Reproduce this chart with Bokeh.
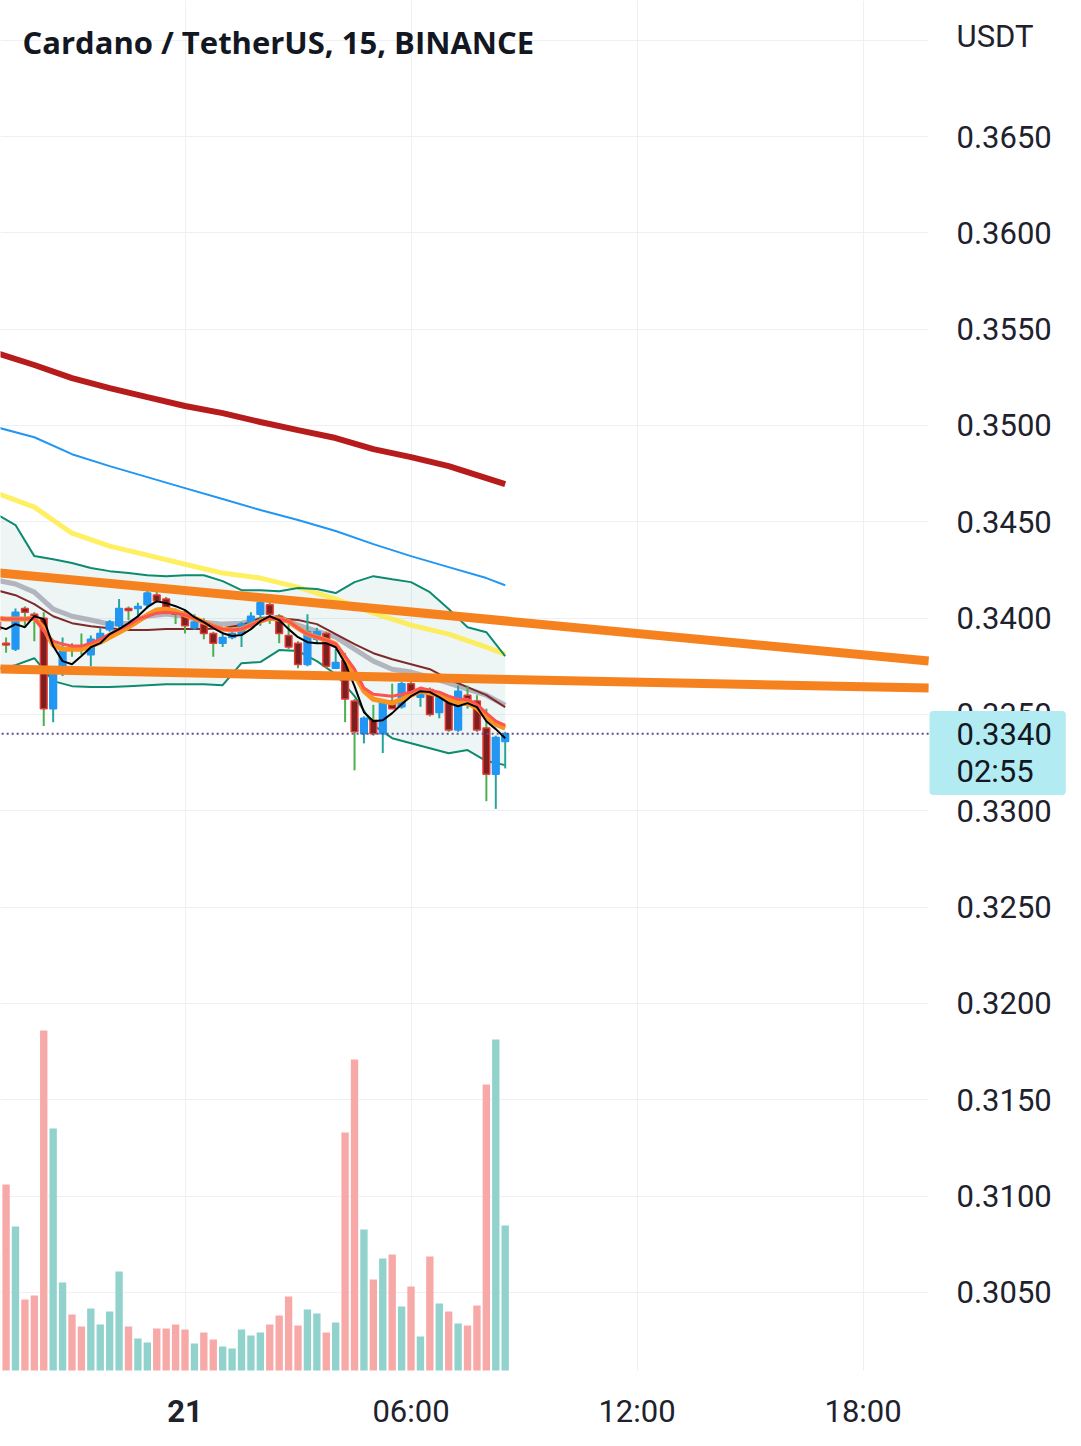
from bokeh.plotting import figure
from bokeh.models import Range1d, FixedTicker, NumeralTickFormatter, Label, ColumnDataSource, BoxAnnotation
from bokeh.embed import file_html
from bokeh.resources import INLINE

# ---------------- data ----------------
# bar open times, hours relative to 00:00 on the 21st (15-minute bars)
bar_hours = [-5.0, -4.75, -4.5, -4.25, -4.0, -3.75, -3.5, -3.25, -3.0, -2.75, -2.5, -2.25,
             -2.0, -1.75, -1.5, -1.25, -1.0, -0.75, -0.5, -0.25, 0.0, 0.25, 0.5, 0.75,
             1.0, 1.25, 1.5, 1.75, 2.0, 2.25, 2.5, 2.75, 3.0, 3.25, 3.5, 3.75, 4.0, 4.25,
             4.5, 4.75, 5.0, 5.25, 5.5, 5.75, 6.0, 6.25, 6.5, 6.75, 7.0, 7.25, 7.5, 7.75,
             8.0, 8.25, 8.5]

open_ = [0.3398, 0.3387, 0.3384, 0.3405, 0.3402, 0.3400, 0.3353, 0.3375, 0.3385, 0.3385, 0.3381,
         0.3388, 0.3394, 0.3396, 0.3405, 0.3405, 0.3407, 0.3412, 0.3410, 0.3404, 0.3403, 0.3395,
         0.3397, 0.3392, 0.3387, 0.3390, 0.3392, 0.3396, 0.3402, 0.3407, 0.3401, 0.3391, 0.3387,
         0.3376, 0.3389, 0.3392, 0.3374, 0.3378, 0.3357, 0.3340, 0.3347, 0.3340, 0.3357, 0.3354,
         0.3366, 0.3359, 0.3363, 0.3351, 0.3358, 0.3342, 0.3360, 0.3357, 0.3343, 0.3319, 0.3336]
high = [0.3401, 0.3390, 0.3405, 0.3406, 0.3403, 0.3403, 0.3372, 0.3390, 0.3387, 0.3392, 0.3391,
        0.3395, 0.3399, 0.3410, 0.3406, 0.3408, 0.3415, 0.3414, 0.3411, 0.3405, 0.3404, 0.3402,
        0.3400, 0.3393, 0.3393, 0.3393, 0.3398, 0.3403, 0.3408, 0.3408, 0.3402, 0.3397, 0.3388,
        0.3402, 0.3395, 0.3393, 0.3384, 0.3382, 0.3358, 0.3349, 0.3355, 0.3358, 0.3366, 0.3367,
        0.3367, 0.3363, 0.3364, 0.3361, 0.3358, 0.3365, 0.3365, 0.3360, 0.3353, 0.3339, 0.3341]
low = [0.3392, 0.3382, 0.3383, 0.3396, 0.3388, 0.3344, 0.3346, 0.3370, 0.3380, 0.3381, 0.3375,
       0.3387, 0.3393, 0.3394, 0.3399, 0.3399, 0.3405, 0.3408, 0.3402, 0.3397, 0.3392, 0.3394,
       0.3389, 0.3380, 0.3385, 0.3389, 0.3385, 0.3396, 0.3396, 0.3397, 0.3387, 0.3384, 0.3374,
       0.3375, 0.3387, 0.3374, 0.3374, 0.3346, 0.3321, 0.3335, 0.3339, 0.3330, 0.3353, 0.3353,
       0.3359, 0.3354, 0.3349, 0.3348, 0.3341, 0.3341, 0.3353, 0.3341, 0.3305, 0.3301, 0.3322]
close = [0.3394, 0.3386, 0.3403, 0.3403, 0.3400, 0.3353, 0.3371, 0.3383, 0.3384, 0.3384, 0.3389,
         0.3392, 0.3398, 0.3405, 0.3404, 0.3406, 0.3413, 0.3409, 0.3403, 0.3402, 0.3396, 0.3398,
         0.3392, 0.3387, 0.3390, 0.3392, 0.3397, 0.3401, 0.3408, 0.3402, 0.3392, 0.3385, 0.3376,
         0.3393, 0.3393, 0.3375, 0.3377, 0.3358, 0.3341, 0.3348, 0.3340, 0.3357, 0.3353, 0.3366,
         0.3360, 0.3363, 0.3350, 0.3360, 0.3342, 0.3362, 0.3355, 0.3342, 0.3319, 0.3338, 0.3340]
volume = [351000, 558000, 432000, 213000, 225000, 1020000, 726000, 264000, 168000, 132000, 186000,
          138000, 177000, 297000, 132000, 96000, 84000, 126000, 126000, 138000, 123000, 81000,
          114000, 93000, 72000, 66000, 123000, 105000, 114000, 138000, 165000, 222000, 135000,
          183000, 171000, 114000, 144000, 714000, 933000, 423000, 273000, 336000, 348000, 192000,
          252000, 102000, 342000, 201000, 177000, 141000, 135000, 195000, 858000, 993000, 435000]

# fast moving averages, one value per bar
ema_black = [0.33958, 0.33943, 0.33969, 0.33953, 0.34010, 0.33995, 0.33855, 0.33777, 0.33761, 0.33803,
             0.33849, 0.33870, 0.33917, 0.33943, 0.33974, 0.34010, 0.34057, 0.34088, 0.34078, 0.34062,
             0.34042, 0.34005, 0.33979, 0.33948, 0.33922, 0.33907, 0.33912, 0.33943, 0.33984, 0.34010,
             0.33990, 0.33943, 0.33901, 0.33875, 0.33870, 0.33870, 0.33849, 0.33766, 0.33647, 0.33512,
             0.33465, 0.33470, 0.33507, 0.33553, 0.33595, 0.33621, 0.33616, 0.33590, 0.33559, 0.33543,
             0.33559, 0.33538, 0.33465, 0.33424, 0.33377]
ema_orange = [0.34000, 0.33995, 0.33995, 0.33995, 0.34000, 0.33948, 0.33860, 0.33839, 0.33839, 0.33839,
              0.33855, 0.33875, 0.33901, 0.33927, 0.33953, 0.33984, 0.34016, 0.34042, 0.34047, 0.34036,
              0.34016, 0.34000, 0.33979, 0.33958, 0.33943, 0.33938, 0.33943, 0.33964, 0.33984, 0.34000,
              0.33995, 0.33984, 0.33948, 0.33917, 0.33901, 0.33886, 0.33865, 0.33792, 0.33709, 0.33621,
              0.33579, 0.33569, 0.33559, 0.33579, 0.33600, 0.33621, 0.33611, 0.33600, 0.33579, 0.33559,
              0.33559, 0.33533, 0.33486, 0.33450, 0.33429]
ema_red = [0.34000, 0.33995, 0.33995, 0.33995, 0.34000, 0.33933, 0.33881, 0.33865, 0.33855, 0.33855,
           0.33870, 0.33891, 0.33917, 0.33943, 0.33964, 0.33995, 0.34010, 0.34026, 0.34031, 0.34026,
           0.34016, 0.34000, 0.33979, 0.33958, 0.33943, 0.33938, 0.33943, 0.33964, 0.33984, 0.34000,
           0.33995, 0.33984, 0.33948, 0.33917, 0.33901, 0.33886, 0.33865, 0.33803, 0.33735, 0.33637,
           0.33605, 0.33600, 0.33595, 0.33605, 0.33616, 0.33637, 0.33626, 0.33616, 0.33595, 0.33579,
           0.33579, 0.33553, 0.33507, 0.33465, 0.33444]

# Bollinger bands and mid-speed averages, sampled every second bar
band_hours = [-5.0, -4.5, -4.0, -3.5, -3.0, -2.5, -2.0, -1.5, -1.0, -0.5, 0.0, 0.5, 1.0, 1.5,
              2.0, 2.5, 3.0, 3.5, 4.0, 4.5, 5.0, 5.5, 6.0, 6.5, 7.0, 7.5, 8.0, 8.5]
bb_upper = [0.34540, 0.34483, 0.34322, 0.34306, 0.34286, 0.34260, 0.34244, 0.34234, 0.34223, 0.34218,
            0.34223, 0.34223, 0.34192, 0.34145, 0.34145, 0.34140, 0.34156, 0.34151, 0.34130, 0.34187,
            0.34218, 0.34202, 0.34187, 0.34135, 0.34047, 0.33953, 0.33927, 0.33803]
bb_lower = [0.33735, 0.33756, 0.33792, 0.33673, 0.33647, 0.33642, 0.33642, 0.33647, 0.33652, 0.33657,
            0.33657, 0.33657, 0.33652, 0.33766, 0.33772, 0.33834, 0.33829, 0.33777, 0.33709, 0.33595,
            0.33444, 0.33377, 0.33351, 0.33325, 0.33299, 0.33315, 0.33258, 0.33237]
ma_gray = [0.34197, 0.34177, 0.34135, 0.34047, 0.34010, 0.33990, 0.33969, 0.33974, 0.34010, 0.34021,
           0.34010, 0.33979, 0.33969, 0.33974, 0.33995, 0.34005, 0.33964, 0.33933, 0.33901, 0.33839,
           0.33777, 0.33735, 0.33720, 0.33694, 0.33663, 0.33631, 0.33600, 0.33548]
ma_maroon = [0.34145, 0.34119, 0.34073, 0.34010, 0.33974, 0.33958, 0.33948, 0.33938, 0.33938, 0.33943,
             0.33943, 0.33943, 0.33948, 0.33964, 0.34000, 0.34000, 0.33990, 0.33969, 0.33917, 0.33865,
             0.33818, 0.33787, 0.33761, 0.33735, 0.33683, 0.33642, 0.33600, 0.33538]

# slow averages, sampled hourly
slow_hours = [-5.0, -4.0, -3.0, -2.0, -1.0, 0.0, 1.0, 2.0, 3.0, 4.0, 5.0, 6.0, 7.0, 8.0, 8.5]
ma_200 = [0.35376, 0.35314, 0.35246, 0.35194, 0.35147, 0.35101, 0.35064, 0.35018, 0.34976, 0.34935,
          0.34877, 0.34836, 0.34789, 0.34727, 0.34696]
ma_blue = [0.34991, 0.34939, 0.34851, 0.34789, 0.34732, 0.34675, 0.34618, 0.34561, 0.34509, 0.34452,
           0.34384, 0.34322, 0.34265, 0.34208, 0.34171]
ma_yellow = [0.34649, 0.34576, 0.34441, 0.34374, 0.34327, 0.34280, 0.34234, 0.34208, 0.34161, 0.34099,
             0.34026, 0.33964, 0.33917, 0.33849, 0.33813]

# drawn trend lines, extended to the right edge of the price pane
pane_start, pane_end = -5.0, 19.74
trend_hours = [pane_start, pane_end]
trend_upper = [0.34236, 0.33777]
trend_lower = [0.33736, 0.33637]

last_price = 0.3340
countdown = "02:55"
price_ticks = [0.305, 0.31, 0.315, 0.32, 0.325, 0.33, 0.335, 0.34, 0.345, 0.35, 0.355, 0.36, 0.365]
grid_price_ticks = price_ticks + [0.37]
pane_bottom_price = 0.30095
time_ticks = [6, 12, 18]
time_labels = ["06:00", "12:00", "18:00"]
day_tick = 0
day_label = "21"
title_text = "Cardano / TetherUS, 15, BINANCE"
currency = "USDT"

# ---------------- figure ----------------
p = figure(width=1081, height=1446, output_backend="svg", toolbar_location=None,
           x_range=Range1d(-4.898, 23.427), y_range=Range1d(0.29721, 0.37206),
           y_axis_location="right",
           min_border_left=0, min_border_top=0, min_border_right=14, min_border_bottom=4)
p.outline_line_color = None
p.background_fill_color = "white"
p.border_fill_color = "white"
p.extra_y_ranges = {"vol": Range1d(-216000, 4110000)}

TEXT = "#1E222D"
p.yaxis.ticker = FixedTicker(ticks=price_ticks)
p.yaxis.formatter = NumeralTickFormatter(format="0.0000")
p.xaxis.ticker = FixedTicker(ticks=time_ticks)
p.xaxis.major_label_overrides = dict(zip(time_ticks, time_labels))
for ax in (p.xaxis[0], p.yaxis[0]):
    ax.axis_line_color = None
    ax.major_tick_line_color = None
    ax.minor_tick_line_color = None
    ax.major_tick_out = 0
    ax.major_tick_in = 0
    ax.minor_tick_out = 0
    ax.minor_tick_in = 0
    ax.major_label_text_font = "Roboto"
    ax.major_label_text_font_size = "31px"
    ax.major_label_text_color = TEXT
p.yaxis.major_label_standoff = -111
p.xaxis.major_label_standoff = -50

p.xgrid.ticker = FixedTicker(ticks=[day_tick] + time_ticks)
p.ygrid.ticker = FixedTicker(ticks=grid_price_ticks)
for g in (p.xgrid[0], p.ygrid[0]):
    g.grid_line_color = "#EEF0F4"
    g.grid_line_width = 1

# keep the price-scale strip and the time-scale strip clear of grid lines
p.add_layout(BoxAnnotation(left=pane_end, fill_color="white", fill_alpha=1.0,
                           line_color=None, level="underlay"))
p.add_layout(BoxAnnotation(top=pane_bottom_price, fill_color="white", fill_alpha=1.0,
                           line_color=None, level="underlay"))

up = [c >= o for o, c in zip(open_, close)]
src = ColumnDataSource(dict(
    t=bar_hours, o=open_, h=high, l=low, c=close, v=volume,
    top=[max(o, c) for o, c in zip(open_, close)],
    bot=[min(o, c) for o, c in zip(open_, close)],
    body=["#2196F3" if u else "#7B1F1F" for u in up],
    edge=["#2196F3" if u else "#E53935" for u in up],
    wick=["#26A69A" if u else "#4CAF50" for u in up],
    volc=["#92D2CC" if u else "#F7A9A8" for u in up],
))

# volume
p.vbar(x="t", top="v", bottom=0, width=0.195, source=src, y_range_name="vol",
       fill_color="volc", line_color=None)

# Bollinger fill
p.varea(x=band_hours, y1=bb_lower, y2=bb_upper, fill_color="#559B9B", fill_alpha=0.1)

# slow averages
p.line(slow_hours, ma_200, line_color="#B71C1C", line_width=6)
p.line(slow_hours, ma_blue, line_color="#2196F3", line_width=2)
p.line(slow_hours, ma_yellow, line_color="#FFEB3B", line_width=5, line_alpha=0.8)

# bands and mid averages
p.line(band_hours, bb_upper, line_color="#0E8A6E", line_width=2)
p.line(band_hours, bb_lower, line_color="#0E8A6E", line_width=2)
p.line(band_hours, ma_gray, line_color="#B2B5BE", line_width=5)
p.line(band_hours, ma_maroon, line_color="#7E2A2A", line_width=2)

# candles
p.segment(x0="t", y0="l", x1="t", y1="h", source=src, line_color="wick", line_width=2)
p.vbar(x="t", top="top", bottom="bot", width=0.178, source=src,
       fill_color="body", line_color="edge", line_width=1.5)

# fast averages
p.line(bar_hours, ema_orange, line_color="#F7931E", line_width=5)
p.line(bar_hours, ema_red, line_color="#FF5252", line_width=3)
p.line(bar_hours, ema_black, line_color="#000000", line_width=2)

# trend lines
p.line(trend_hours, trend_upper, line_color="#F5821F", line_width=9)
p.line(trend_hours, trend_lower, line_color="#F5821F", line_width=9)

# last price line
p.line([pane_start, pane_end], [last_price, last_price], line_color="#5D4E8C",
       line_width=2, line_dash="2 3")

# texts
p.add_layout(Label(x=-4.314, y=0.36988, text=title_text, text_font="Open Sans",
                   text_font_style="bold", text_font_size="31px", text_color="#131722",
                   text_baseline="middle", text_align="left"))
p.add_layout(Label(x=20.481, y=0.37019, text=currency, text_font="Roboto",
                   text_font_size="31px", text_color=TEXT,
                   text_baseline="middle", text_align="left"))
p.add_layout(Label(x=day_tick, y=0.29882, text=day_label, text_font="Roboto",
                   text_font_style="bold", text_font_size="31px", text_color=TEXT,
                   text_baseline="middle", text_align="center"))
p.add_layout(Label(x=19.764, y=0.33300, text=f"{last_price:.4f}\n{countdown}",
                   text_font="Roboto", text_font_size="31px", text_color="#131722",
                   text_line_height=1.0,
                   text_baseline="middle", text_align="left",
                   background_fill_color="#B2EBF2",
                   padding=dict(left=27, right=14, top=5, bottom=5), border_radius=4))

open("out.html", "w").write(file_html(p, INLINE))
